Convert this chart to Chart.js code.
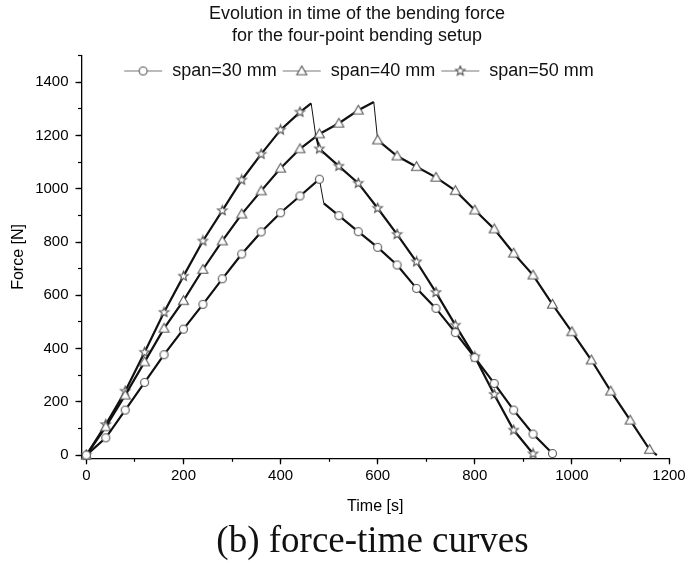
<!DOCTYPE html>
<html>
<head>
<meta charset="utf-8">
<script src="https://cdn.jsdelivr.net/npm/chart.js@4.4.1/dist/chart.umd.min.js"></script>
<style>
    html, body { margin: 0; padding: 0; background: #fff; overflow: hidden; }
    #obal { position: relative; width: 699px; height: 563px; overflow: hidden; }
    #graf { position: absolute; left: 0; top: 0; }
    #popis {
        position: absolute; left: 23px; top: 520px; width: 699px;
        text-align: center; color: #111;
        font-family: "Liberation Serif", "Times New Roman", serif;
        font-size: 37px; line-height: 39px;
    }
</style>
</head>
<body>
<div id="obal">
    <canvas id="graf" width="699" height="563"></canvas>
    <div id="popis">(b) force-time curves</div>
</div>
<script>
// Dáta odčítané z grafu (čas [s], sila [N])
const cas30  = [0, 40, 80, 120, 160, 200, 240, 280, 320, 360, 400, 440, 480, 489, 520, 560, 600, 640, 680, 720, 760, 800, 840, 880, 920, 960]
const sila30 = [0, 65, 169, 273, 377, 473, 566, 662, 755, 838, 910, 973, 1036, 945, 899, 839, 780, 714, 626, 551, 460, 366, 269, 169, 79, 6]

const cas40  = [0, 40, 80, 120, 160, 200, 240, 280, 320, 360, 400, 440, 480, 520, 560, 592, 600, 640, 680, 720, 760, 800, 840, 880, 920, 960, 1000, 1040, 1080, 1120, 1160, 1175]
const sila40 = [0, 106, 225, 350, 476, 580, 697, 804, 905, 992, 1077, 1150, 1206, 1246, 1295, 1326, 1183, 1123, 1083, 1043, 993, 920, 849, 758, 676, 566, 463, 357, 240, 131, 21, 0]

const cas50  = [0, 40, 80, 120, 160, 200, 240, 280, 320, 360, 400, 440, 463, 472, 480, 520, 560, 600, 640, 680, 720, 760, 800, 840, 880, 920]
const sila50 = [0, 115, 240, 386, 536, 672, 804, 918, 1033, 1130, 1221, 1288, 1321, 1205, 1150, 1085, 1021, 927, 829, 726, 611, 488, 369, 228, 94, 5]

const nazvy = ['span=30 mm', 'span=40 mm', 'span=50 mm']
const tvary = ['circle', 'triangle', 'star']

// Popisy osí
const xHlavne = [0, 200, 400, 600, 800, 1000, 1200]
const xVedlajsie = [0, 100, 200, 300, 400, 500, 600, 700, 800, 900, 1000, 1100, 1200]
const yHlavne = [0, 200, 400, 600, 800, 1000, 1200, 1400]
const yVedlajsie = [0, 100, 200, 300, 400, 500, 600, 700, 800, 900, 1000, 1100, 1200, 1300, 1400, 1500]

const pismo = "'Liberation Sans', Arial, Helvetica, sans-serif"
Chart.defaults.font.family = pismo

// Kreslenie značky (prázdna, šedý okraj)
function kresliTvar(c, tvar, cx, cy) {
    c.beginPath()
    if (tvar === 'circle') {
        c.arc(cx, cy, 4, 0, Math.PI * 2)
    } else if (tvar === 'triangle') {
        c.moveTo(cx, cy - 5)
        c.lineTo(cx + 5, cy + 3.8)
        c.lineTo(cx - 5, cy + 3.8)
        c.closePath()
    } else {
        for (let k = 0; k < 10; k++) {
            const r = k % 2 === 0 ? 5 : 2.2
            const a = -Math.PI / 2 + k * Math.PI / 5
            const px = cx + r * Math.cos(a), py = cy + r * Math.sin(a)
            if (k === 0) c.moveTo(px, py); else c.lineTo(px, py)
        }
        c.closePath()
    }
    c.fillStyle = '#fff'
    c.fill()
    c.strokeStyle = '#555'
    c.lineWidth = 1.1
    c.stroke()
}

function znacka(tvar) {
    const cv = document.createElement('canvas')
    cv.width = 13; cv.height = 13
    kresliTvar(cv.getContext('2d'), tvar, 6.5, 6.5)
    return cv
}

function ikonaLegendy(tvar) {
    const cv = document.createElement('canvas')
    cv.width = 40; cv.height = 13
    const c = cv.getContext('2d')
    c.beginPath()
    c.moveTo(1, 6.5); c.lineTo(39, 6.5)
    c.strokeStyle = '#777'
    c.lineWidth = 1
    c.stroke()
    kresliTvar(c, tvar, 20, 6.5)
    return cv
}

const body = (casy, sily) => casy.map((t, i) => ({ x: t, y: sily[i] }))

// Prudký pokles po zlome kreslíme tenšou čiarou
const hrubka = ctx => {
    const dx = ctx.p1.parsed.x - ctx.p0.parsed.x
    const dy = ctx.p1.parsed.y - ctx.p0.parsed.y
    return (dy < -80 && dx < 15) ? 1 : 2.2
}

function dataset(i, casy, sily) {
    return {
        label: nazvy[i],
        data: body(casy, sily),
        borderColor: '#111',
        borderWidth: 2.2,
        tension: 0,
        pointStyle: znacka(tvary[i]),
        pointRadius: ctx => (ctx.parsed && ctx.parsed.x % 40 === 0) ? 4 : 0,
        pointHoverRadius: 0,
        segment: { borderWidth: hrubka },
        clip: false
    }
}

// Titulok a legendu posunieme tam, kde sú v origináli
const posun = {
    id: 'posun',
    afterLayout(chart) {
        const t = chart.titleBlock
        t.left += 22.5
        t.right += 22.5
        const l = chart.legend
        const dy = 57 - l.top
        l.top += dy
        l.bottom += dy
        l.left += 24
        l.right += 24
    }
}

const tickyZ = hodnoty => s => { s.ticks = hodnoty.map(v => ({ value: v })) }

const osStyl = {
    border: { display: true, color: '#000', width: 1.3 },
    grid: { drawOnChartArea: false, drawTicks: true, tickLength: 6, tickColor: '#000', tickWidth: 1.3 }
}
const vedlajsiaOs = {
    border: { display: false },
    grid: { drawOnChartArea: false, drawTicks: true, tickLength: 3.5, tickColor: '#000', tickWidth: 1.2 },
    ticks: { display: false }
}

new Chart(document.getElementById('graf'), {
    type: 'line',
    data: {
        datasets: [
            dataset(0, cas30, sila30),
            dataset(1, cas40, sila40),
            dataset(2, cas50, sila50)
        ]
    },
    options: {
        responsive: false,
        animation: false,
        events: [],
        layout: { padding: { left: 0, right: 30, top: 0, bottom: 42.7 } },
        plugins: {
            title: {
                display: true,
                text: ['Evolution in time of the bending force', 'for the four-point bending setup'],
                color: '#111',
                font: { size: 18, weight: 'normal', lineHeight: 1.17 },
                padding: { top: 4, bottom: -23.5 }
            },
            legend: {
                position: 'top',
                align: 'center',
                labels: {
                    usePointStyle: true,
                    pointStyleWidth: 40,
                    boxHeight: 13,
                    padding: 5,
                    color: '#111',
                    font: { size: 18 },
                    generateLabels: chart => chart.data.datasets.map((ds, i) => ({
                        text: ds.label,
                        pointStyle: ikonaLegendy(tvary[i]),
                        fillStyle: '#fff',
                        strokeStyle: '#fff',
                        lineWidth: 0,
                        hidden: false,
                        datasetIndex: i,
                        fontColor: '#111'
                    }))
                }
            },
            tooltip: { enabled: false }
        },
        scales: {
            x: {
                type: 'linear', position: 'bottom', weight: 1,
                min: -10, max: 1200,
                afterFit: s => { s.height = 62 },
                afterBuildTicks: tickyZ(xHlavne),
                ...osStyl,
                ticks: { padding: 3, color: '#000', font: { size: 15 }, callback: v => String(v) },
                title: { display: true, text: 'Time [s]', color: '#000', font: { size: 16 }, padding: { top: 0, bottom: 4 } }
            },
            x2: {
                type: 'linear', position: 'bottom', weight: 0,
                min: -10, max: 1200,
                afterFit: s => { s.height = 0 },
                afterBuildTicks: tickyZ(xVedlajsie),
                ...vedlajsiaOs
            },
            y: {
                type: 'linear', position: 'left', weight: 1,
                min: -12, max: 1500,
                afterFit: s => { s.width = 81.5 },
                afterBuildTicks: tickyZ(yHlavne),
                ...osStyl,
                ticks: { padding: 7, color: '#000', font: { size: 15 }, callback: v => String(v) },
                title: { display: true, text: 'Force [N]', color: '#000', font: { size: 16 }, padding: { top: 9, bottom: 0 } }
            },
            y2: {
                type: 'linear', position: 'left', weight: 0,
                min: -12, max: 1500,
                afterFit: s => { s.width = 0 },
                afterBuildTicks: tickyZ(yVedlajsie),
                ...vedlajsiaOs
            }
        }
    },
    plugins: [posun]
})
</script>
</body>
</html>
